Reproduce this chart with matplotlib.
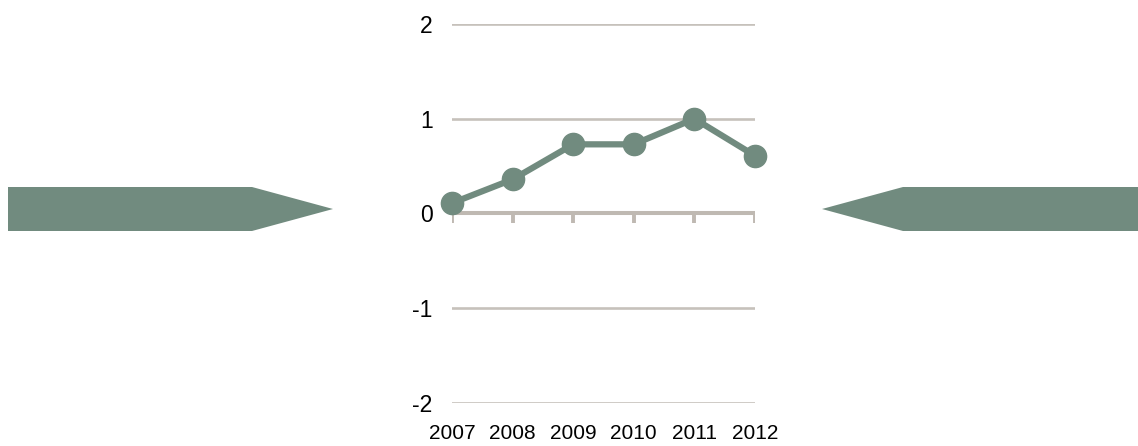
import matplotlib.pyplot as plt
from matplotlib.patches import Polygon

plt.rcParams['font.family'] = ['Liberation Sans', 'DejaVu Sans']

years = [2007, 2008, 2009, 2010, 2011, 2012]
values = [0.11, 0.36, 0.73, 0.73, 1.0, 0.61]
yticks = [-2, -1, 0, 1, 2]

green = '#718b7f'
grid = '#c6c1bb'
axis_col = '#bfb9b2'

W, H = 1138, 446
fig = plt.figure(figsize=(W / 100, H / 100), dpi=100)
ax = fig.add_axes([452 / W, 43 / H, 303 / W, 379 / H])

ax.set_xlim(years[0], years[-1])
ax.set_ylim(-2, 2)
for s in ax.spines.values():
    s.set_visible(False)

for y in yticks:
    if y != 0:
        ax.axhline(y, color=grid, lw=1.9, zorder=1)
# zero axis with tick marks
ax.axhline(0, color=axis_col, lw=2.9, zorder=1)
ax.vlines(years, -0.1, 0, color=axis_col, lw=2.8, zorder=1)

ax.plot(years, values, color=green, lw=4.5, marker='o', ms=16,
        clip_on=False, zorder=3)

ax.set_yticks(yticks)
ax.set_yticklabels([str(y) for y in yticks])
ax.set_xticks(years)
ax.set_xticklabels([str(y) for y in years])
ax.tick_params(axis='y', length=0, pad=14, labelsize=16.5)
ax.tick_params(axis='x', length=0, pad=15, labelsize=15)

# decorative arrows on both sides
left = [(8, 187), (252, 187), (333, 209), (252, 231), (8, 231)]
right = [(1138, 187), (903, 187), (822, 209), (903, 231), (1138, 231)]
for pts in (left, right):
    xy = [(x / W, 1 - y / H) for x, y in pts]
    fig.patches.append(Polygon(xy, closed=True, transform=fig.transFigure,
                               facecolor=green, edgecolor='none'))

fig.savefig('out.png', dpi=100)
